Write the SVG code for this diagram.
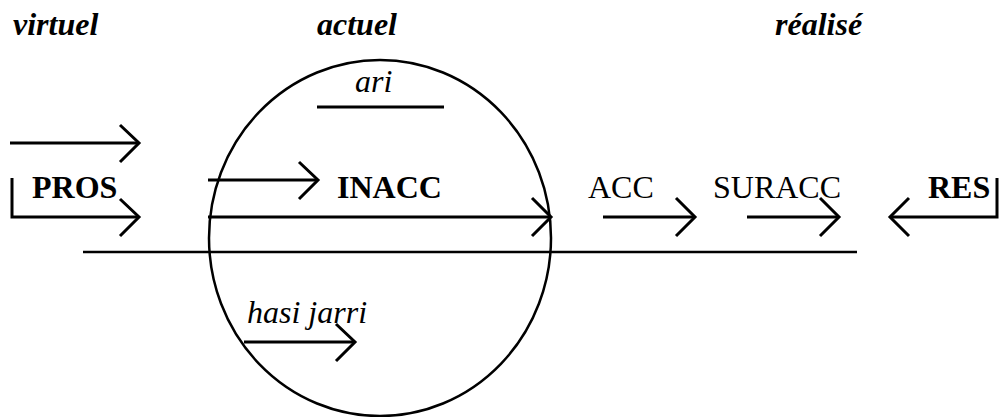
<svg xmlns="http://www.w3.org/2000/svg" width="999" height="417" viewBox="0 0 999 417">
<style>
  .ln { stroke:#000; stroke-width:3; fill:none; }
  .thin { stroke:#000; stroke-width:2.5; fill:none; }
  text { font-family:'Liberation Serif','DejaVu Serif','Times New Roman',serif; font-size:32px; fill:#000; }
  .head { font-weight:bold; font-style:italic; }
  .bold { font-weight:bold; }
  .ital { font-style:italic; }
</style>
<rect width="999" height="417" fill="#fff"/>
<g id="headings">
  <text class="head" x="13" y="35">virtuel</text>
  <text class="head" x="317" y="35">actuel</text>
  <text class="head" x="775" y="35">réalisé</text>
</g>
<g id="circle">
  <ellipse class="thin" cx="380" cy="238" rx="171" ry="178"/>
</g>
<g id="ari">
  <text class="ital" x="355" y="92">ari</text>
  <line class="ln" x1="317" y1="107" x2="444" y2="107"/>
</g>
<g id="pros"><text class="bold" x="32" y="198">PROS</text></g>
<g id="inacc"><text class="bold" x="337" y="198">INACC</text></g>
<g id="acc"><text x="588" y="198">ACC</text></g>
<g id="suracc"><text x="713" y="198">SURACC</text></g>
<g id="res"><text class="bold" x="928" y="198">RES</text></g>
<g id="hasi"><text class="ital" x="247" y="323">hasi jarri</text></g>
<g id="connectors">
  <line class="thin" x1="83" y1="252" x2="857" y2="252"/>
  <line class="ln" x1="10" y1="143" x2="139" y2="143"/>
  <polyline class="ln" points="120,125 139,143 120,162"/>
  <polyline class="ln" points="12,178 12,217 139,217"/>
  <polyline class="ln" points="120,199 139,217 120,236"/>
  <line class="ln" x1="208" y1="180" x2="318" y2="180"/>
  <polyline class="ln" points="299,162 318,180 299,199"/>
  <line class="ln" x1="208" y1="217" x2="551" y2="217"/>
  <polyline class="ln" points="532,198 551,217 532,236"/>
  <line class="ln" x1="603" y1="217" x2="695" y2="217"/>
  <polyline class="ln" points="676,198 695,217 676,236"/>
  <line class="ln" x1="747" y1="217" x2="839" y2="217"/>
  <polyline class="ln" points="820,198 839,217 820,236"/>
  <polyline class="ln" points="997,178 997,217 890,217"/>
  <polyline class="ln" points="909,198 890,217 909,236"/>
  <line class="ln" x1="244" y1="342" x2="355" y2="342"/>
  <polyline class="ln" points="336,324 355,342 336,361"/>
</g>
</svg>
